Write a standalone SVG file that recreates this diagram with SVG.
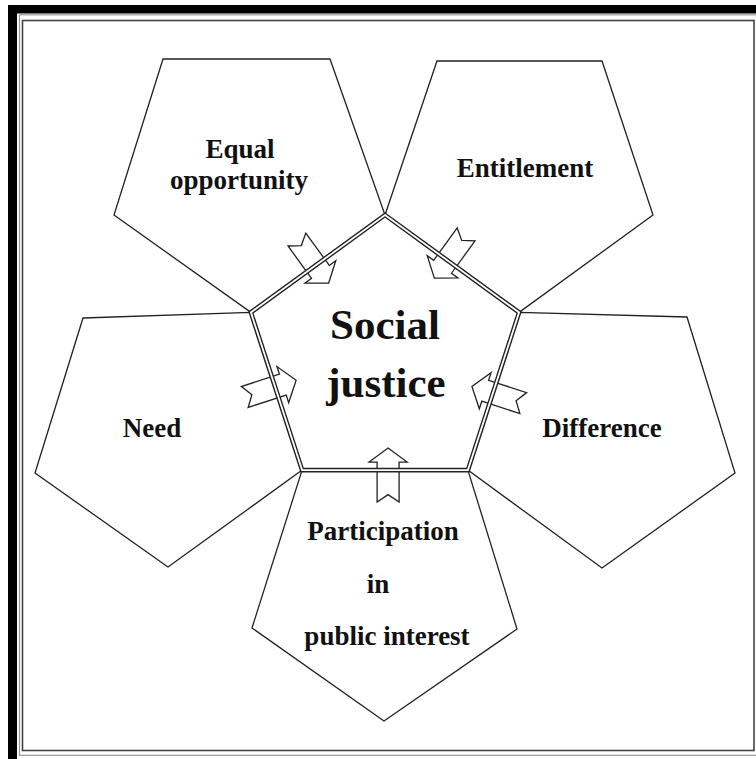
<svg xmlns="http://www.w3.org/2000/svg" xmlns:xlink="http://www.w3.org/1999/xlink" width="756" height="759" viewBox="0 0 756 759">
  <style>
    .pent { fill: none; stroke: #222; stroke-width: 1.3; stroke-linejoin: miter; }
    .label { font-family: "Liberation Serif", "Times New Roman", serif; font-weight: bold; font-size: 27px; fill: #111; text-anchor: middle; }
    .title { font-family: "Liberation Serif", "Times New Roman", serif; font-weight: bold; font-size: 43px; fill: #111; text-anchor: middle; }
    .arrow { fill: #fff; stroke: #222; stroke-width: 1.3; stroke-linejoin: miter; }
    .rim-outer { fill: none; stroke: #222; stroke-width: 4.6; stroke-linejoin: miter; }
    .rim-inner { fill: none; stroke: #fff; stroke-width: 1.8; stroke-linejoin: miter; }
  </style>
  <defs>
    <!-- notched block arrow, pointing along +x, origin where it crosses the rim -->
    <polygon id="arrow" class="arrow" points="22,0 8,-19 8,-11 -32,-11 -24.5,0 -32,11 8,11 8,19"/>
  </defs>

  <rect width="756" height="759" fill="#fff"/>

  <!-- page frame -->
  <g id="frame">
    <rect x="8" y="5" width="748" height="8.5" fill="#000"/>
    <rect x="8" y="5" width="9" height="754" fill="#000"/>
    <rect x="19.5" y="14.8" width="740" height="740.5" fill="none" stroke="#999" stroke-width="1.2"/>
    <rect x="22.5" y="20.5" width="731.5" height="730" fill="none" stroke="#444" stroke-width="1.6"/>
  </g>

  <!-- outer pentagons -->
  <g id="equal-opportunity">
    <polygon class="pent" points="163,59 330,59 385,215 250.9,312.4 114,215"/>
    <text class="label" x="240" y="158">Equal</text>
    <text class="label" x="239" y="188.5">opportunity</text>
  </g>
  <g id="entitlement">
    <polygon class="pent" points="385,215 437,61 602,61 653,215 519.1,312.4"/>
    <text class="label" x="525" y="177">Entitlement</text>
  </g>
  <g id="need">
    <polygon class="pent" points="83,318 250.9,312.4 302.1,470.1 168,567 35,473"/>
    <text class="label" x="152" y="437">Need</text>
  </g>
  <g id="difference">
    <polygon class="pent" points="519.1,312.4 687,317 735,473 602,568 467.9,470.1"/>
    <text class="label" x="602" y="437">Difference</text>
  </g>
  <g id="participation">
    <polygon class="pent" points="302.1,470.1 467.9,470.1 517,629 384,721 252,628"/>
    <text class="label" x="383" y="540">Participation</text>
    <text class="label" x="378" y="593">in</text>
    <text class="label" x="387" y="645">public interest</text>
  </g>

  <!-- arrows into the centre -->
  <g id="connectors">
    <use xlink:href="#arrow" href="#arrow" transform="translate(315.7,265.4) rotate(54)"/>
    <use xlink:href="#arrow" href="#arrow" transform="translate(447.3,260.3) rotate(126)"/>
    <use xlink:href="#arrow" href="#arrow" transform="translate(492.8,393.2) rotate(198)"/>
    <use xlink:href="#arrow" href="#arrow" transform="translate(388.1,470.1) rotate(-90)"/>
    <use xlink:href="#arrow" href="#arrow" transform="translate(275.2,387.1) rotate(-18)"/>
  </g>

  <!-- central pentagon with double rim -->
  <g id="social-justice">
    <polygon class="rim-outer" points="385,215 519.1,312.4 467.9,470.1 302.1,470.1 250.9,312.4"/>
    <polygon class="rim-inner" points="385,215 519.1,312.4 467.9,470.1 302.1,470.1 250.9,312.4"/>
    <text class="title" x="385" y="339">Social</text>
    <text class="title" x="386" y="397">justice</text>
  </g>
</svg>
